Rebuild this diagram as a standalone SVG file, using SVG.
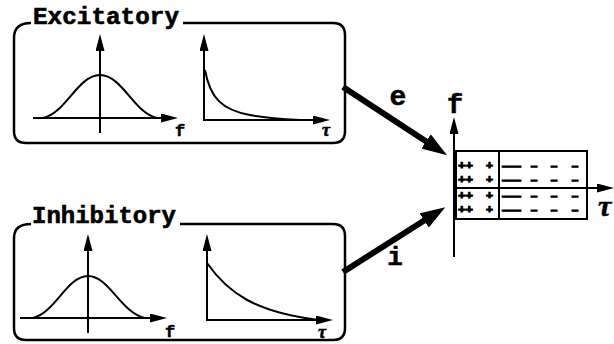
<svg xmlns="http://www.w3.org/2000/svg" width="614" height="344" viewBox="0 0 614 344">
<style>
.box{fill:none;stroke:#000;stroke-width:2.5;stroke-linejoin:round}
.ax{fill:none;stroke:#000;stroke-width:2}
.cv{fill:none;stroke:#000;stroke-width:2}
.title{font-family:"Liberation Mono",monospace;font-weight:bold;font-size:23px;fill:#000;stroke:#000;stroke-width:0.6}
.lbl{font-family:"Liberation Mono",monospace;font-weight:bold;fill:#000;stroke:#000;stroke-width:0.5}
.tau{font-family:"Liberation Serif",serif;font-weight:bold;font-style:italic;fill:#000;stroke:#000;stroke-width:0.5}
.sym{font-family:"Liberation Mono",monospace;font-weight:bold;font-size:11px;fill:#000;stroke:#000;stroke-width:1}
.big{fill:none;stroke:#000;stroke-width:6}
</style>
<defs>
<marker id="ah" markerUnits="userSpaceOnUse" markerWidth="17" markerHeight="9" refX="1" refY="4.5" orient="auto"><path d="M0,0 L17,4.5 L0,9 Z" fill="#000"/></marker>
<marker id="bh" markerUnits="userSpaceOnUse" markerWidth="25" markerHeight="17" refX="1" refY="8.5" orient="auto"><path d="M0,0 L25,8.5 L0,17 Z" fill="#000"/></marker>
</defs>

<g id="excitatory">
<path class="box" d="M183,23 H333 Q345,23 345,35 V131 Q345,143 333,143 H26 Q14,143 14,131 V38 Q14,23 31,23"/>
<text class="title" x="33" y="24" textLength="146" lengthAdjust="spacingAndGlyphs">Excitatory</text>
<line class="ax" x1="100" y1="133" x2="100" y2="50" marker-end="url(#ah)"/>
<line class="ax" x1="33" y1="118" x2="162" y2="118" marker-end="url(#ah)"/>
<path class="cv" d="M43,118 C65,114 78,75 100,75 C122,75 135,114 157,118"/>
<text class="lbl" x="175" y="136" font-size="17">f</text>
<line class="ax" x1="204" y1="120" x2="204" y2="50" marker-end="url(#ah)"/>
<line class="ax" x1="203" y1="120" x2="314" y2="120" marker-end="url(#ah)"/>
<path class="cv" d="M205,70 C210,98 222,110 250,115 C265,118 280,119 300,120"/>
<text class="tau" x="322" y="136" font-size="18">τ</text>
</g>

<g id="inhibitory">
<path class="box" d="M180,224 H333 Q345,224 345,236 V328 Q345,340 333,340 H26 Q14,340 14,328 V238 Q14,224 31,224"/>
<text class="title" x="32" y="223" textLength="144" lengthAdjust="spacingAndGlyphs">Inhibitory</text>
<line class="ax" x1="88" y1="333" x2="88" y2="250" marker-end="url(#ah)"/>
<line class="ax" x1="20" y1="318" x2="151" y2="318" marker-end="url(#ah)"/>
<path class="cv" d="M33,318 C55,313 67,276 88,276 C109,276 121,313 145,318"/>
<text class="lbl" x="165" y="337" font-size="17">f</text>
<line class="ax" x1="207" y1="320" x2="207" y2="250" marker-end="url(#ah)"/>
<line class="ax" x1="206" y1="320" x2="317" y2="320" marker-end="url(#ah)"/>
<path class="cv" d="M207,263 C228,293 255,312 318,320"/>
<text class="tau" x="318" y="338" font-size="18">τ</text>
</g>

<g id="connectors">
<line class="big" x1="343" y1="87" x2="427" y2="142" marker-end="url(#bh)"/>
<text class="lbl" x="398" y="105" font-size="28" text-anchor="middle">e</text>
<line class="big" x1="343" y1="272" x2="425" y2="220" marker-end="url(#bh)"/>
<text class="lbl" x="395" y="265" font-size="26" text-anchor="middle">i</text>
</g>

<g id="map">
<line class="ax" x1="454" y1="257" x2="454" y2="133" marker-end="url(#ah)"/>
<line class="ax" x1="454" y1="188" x2="598" y2="188" marker-end="url(#ah)"/>
<text class="lbl" x="455" y="113" font-size="27" text-anchor="middle">f</text>
<text class="tau" x="598" y="216" font-size="30">τ</text>
<rect x="456" y="151" width="131" height="68" fill="none" stroke="#000" stroke-width="2"/>
<line class="ax" x1="499" y1="151" x2="499" y2="219"/>
<text class="sym" y="169"><tspan x="458" textLength="15" lengthAdjust="spacingAndGlyphs">++</tspan><tspan x="486" textLength="7" lengthAdjust="spacingAndGlyphs">+</tspan><tspan x="503" textLength="17" lengthAdjust="spacingAndGlyphs">—</tspan><tspan x="531" textLength="6" lengthAdjust="spacingAndGlyphs">—</tspan><tspan x="551" textLength="6" lengthAdjust="spacingAndGlyphs">—</tspan><tspan x="572" textLength="6" lengthAdjust="spacingAndGlyphs">—</tspan></text>
<text class="sym" y="183"><tspan x="458" textLength="15" lengthAdjust="spacingAndGlyphs">++</tspan><tspan x="486" textLength="7" lengthAdjust="spacingAndGlyphs">+</tspan><tspan x="503" textLength="17" lengthAdjust="spacingAndGlyphs">—</tspan><tspan x="531" textLength="6" lengthAdjust="spacingAndGlyphs">—</tspan><tspan x="551" textLength="6" lengthAdjust="spacingAndGlyphs">—</tspan><tspan x="572" textLength="6" lengthAdjust="spacingAndGlyphs">—</tspan></text>
<text class="sym" y="199"><tspan x="458" textLength="15" lengthAdjust="spacingAndGlyphs">++</tspan><tspan x="486" textLength="7" lengthAdjust="spacingAndGlyphs">+</tspan><tspan x="503" textLength="17" lengthAdjust="spacingAndGlyphs">—</tspan><tspan x="531" textLength="6" lengthAdjust="spacingAndGlyphs">—</tspan><tspan x="551" textLength="6" lengthAdjust="spacingAndGlyphs">—</tspan><tspan x="572" textLength="6" lengthAdjust="spacingAndGlyphs">—</tspan></text>
<text class="sym" y="213"><tspan x="458" textLength="15" lengthAdjust="spacingAndGlyphs">++</tspan><tspan x="486" textLength="7" lengthAdjust="spacingAndGlyphs">+</tspan><tspan x="503" textLength="17" lengthAdjust="spacingAndGlyphs">—</tspan><tspan x="531" textLength="6" lengthAdjust="spacingAndGlyphs">—</tspan><tspan x="551" textLength="6" lengthAdjust="spacingAndGlyphs">—</tspan><tspan x="572" textLength="6" lengthAdjust="spacingAndGlyphs">—</tspan></text>
</g>
</svg>
